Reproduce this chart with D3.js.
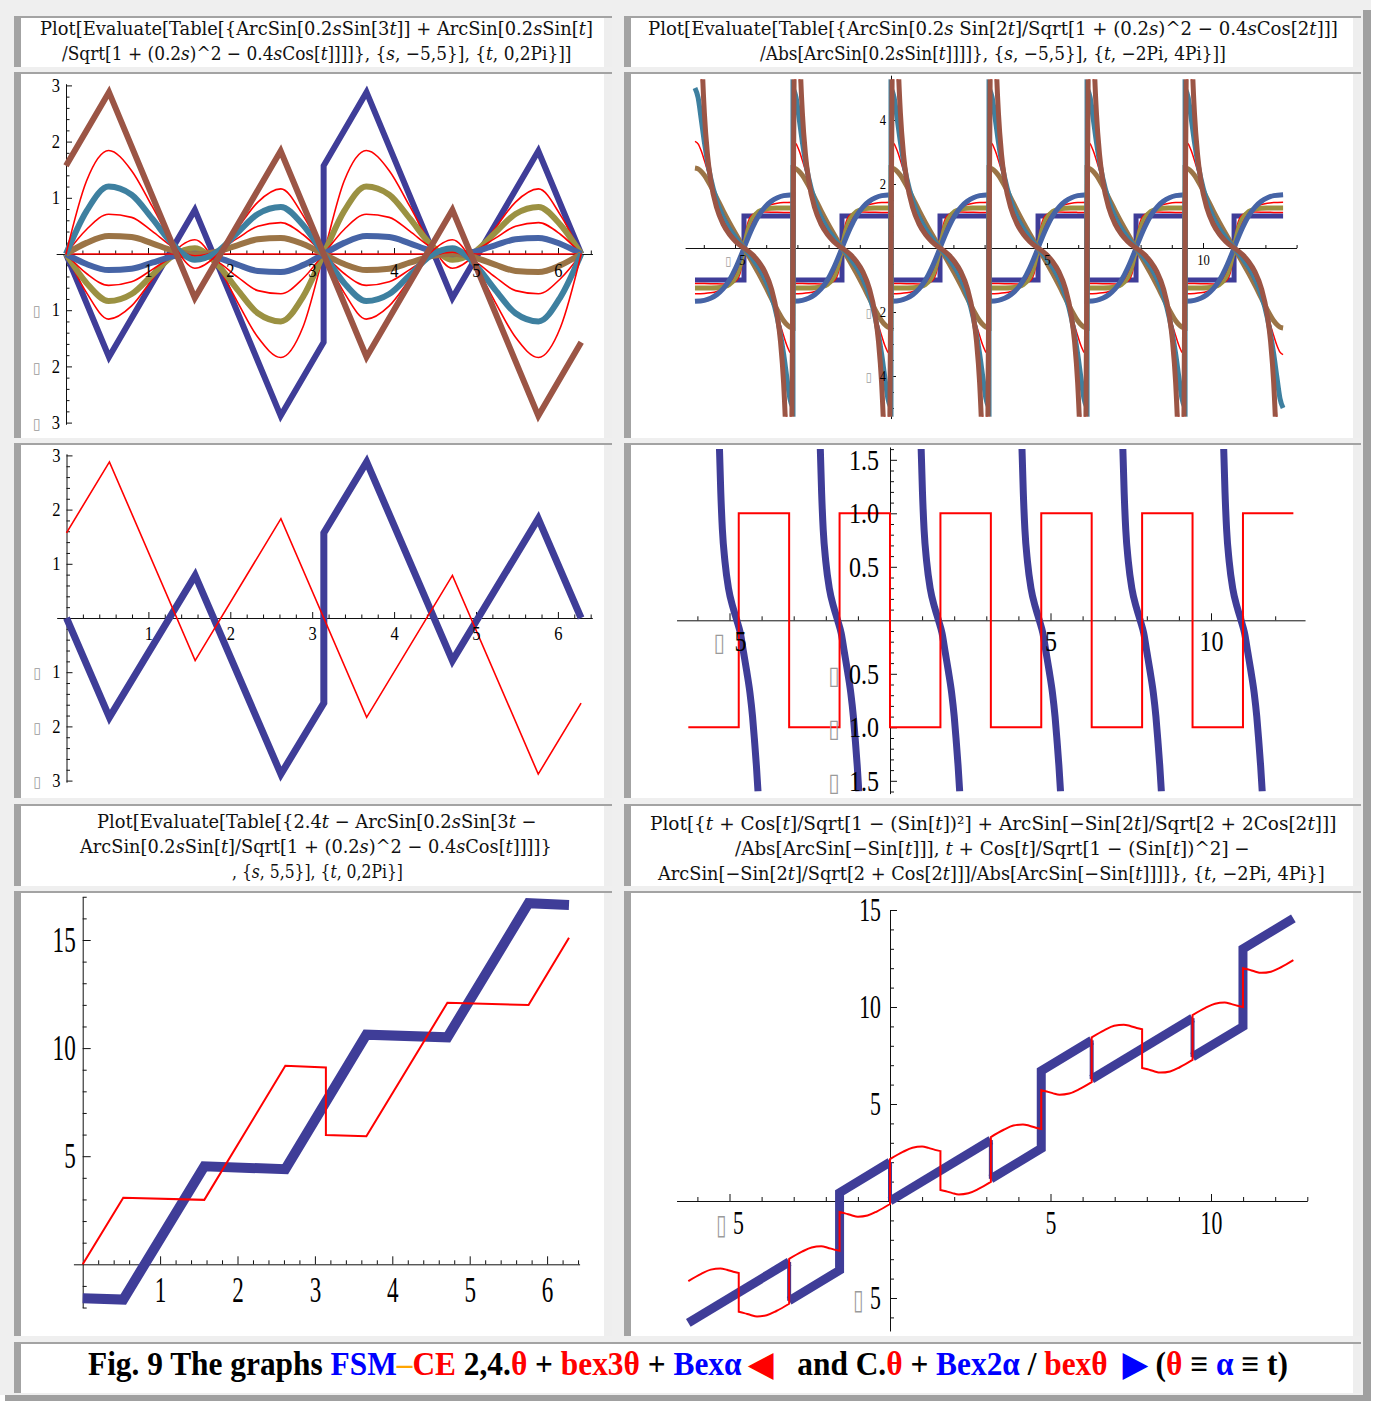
<!DOCTYPE html>
<html>
<head>
<meta charset="utf-8">
<script src="https://cdn.jsdelivr.net/npm/d3@7"></script>
<style>
  body { margin: 0; background: #fff; }
  svg text { white-space: pre; }
</style>
</head>
<body>
<svg id="fig" width="1378" height="1401"></svg>
<script>
// ---------- titles / caption text ----------
const title1 = ["Plot[Evaluate[Table[{ArcSin[0.2*s*Sin[3*t*]] + ArcSin[0.2*s*Sin[*t*]",
                "/Sqrt[1 + (0.2*s*)^2 \u2212 0.4*s*Cos[*t*]]]]}, {*s*, \u22125,5}], {*t*, 0,2Pi}]]"];
const title2 = ["Plot[Evaluate[Table[{ArcSin[0.2*s* Sin[2*t*]/Sqrt[1 + (0.2*s*)^2 \u2212 0.4*s*Cos[2*t*]]]",
                "/Abs[ArcSin[0.2*s*Sin[*t*]]]]}, {*s*, \u22125,5}], {*t*, \u22122Pi, 4Pi}]]"];
const title5 = ["Plot[Evaluate[Table[{2.4*t* \u2212 ArcSin[0.2*s*Sin[3*t* \u2212",
                "ArcSin[0.2*s*Sin[*t*]/Sqrt[1 + (0.2*s*)^2 \u2212 0.4*s*Cos[*t*]]]]}",
                ", {*s*, 5,5}], {*t*, 0,2Pi}]"];
const title6 = ["Plot[{*t* + Cos[*t*]/Sqrt[1 \u2212 (Sin[*t*])\u00B2] + ArcSin[\u2212Sin[2*t*]/Sqrt[2 + 2Cos[2*t*]]]",
                "/Abs[ArcSin[\u2212Sin[*t*]]], *t* + Cos[*t*]/Sqrt[1 \u2212 (Sin[*t*])^2] \u2212",
                "ArcSin[\u2212Sin[2*t*]/Sqrt[2 + Cos[2*t*]]]/Abs[ArcSin[\u2212Sin[*t*]]]]}, {*t*, \u22122Pi, 4Pi}]"];
const captionParts = [
  ["Fig. 9 The graphs ", "#000"], ["FSM", "#0000ff"], ["\u2013", "#ffa500"], ["CE", "#ff0000"],
  [" 2,4.", "#000"], ["\u03B8", "#ff0000"], [" + ", "#000"], ["bex3\u03B8", "#ff0000"], [" + ", "#000"],
  ["Bex\u03B1", "#0000ff"], [" \u25C0", "#ff0000"], ["   and C.", "#000"], ["\u03B8", "#ff0000"],
  [" + ", "#000"], ["Bex2\u03B1", "#0000ff"], [" / ", "#000"], ["bex\u03B8", "#ff0000"], ["  \u25B6", "#0000ff"],
  [" (", "#000"], ["\u03B8", "#ff0000"], [" \u2261 ", "#000"], ["\u03B1", "#0000ff"], [" \u2261 t)", "#000"]
];

// ---------- plot 1 & 3 data (t in radians) ----------
const p1T = [0, 0.25, 0.52, 0.8, 1.05, 1.3, 1.571, 1.84, 2.09, 2.34, 2.62, 2.89, 3.142,
             3.392, 3.662, 3.942, 4.192, 4.442, 4.712, 4.982, 5.232, 5.482, 5.762, 6.032, 6.283];
const p1SNeg4 = [0, -0.688, -1.158, -0.924, -0.454, 0.017, 0.253, -0.189, -0.850, -1.483, -1.841, -1.298, 0,
                 1.298, 1.841, 1.483, 0.850, 0.193, -0.253, -0.020, 0.454, 0.924, 1.158, 0.688, 0];
const p1SNeg3 = [0, -0.515, -0.837, -0.712, -0.376, -0.037, 0.103, -0.175, -0.633, -1.054, -1.200, -0.762, 0,
                 0.762, 1.200, 1.054, 0.633, 0.178, -0.103, 0.035, 0.376, 0.712, 0.837, 0.515, 0];
const p1SNeg2 = [0, -0.347, -0.558, -0.494, -0.278, -0.056, 0.031, -0.127, -0.406, -0.652, -0.707, -0.436, 0,
                 0.436, 0.707, 0.652, 0.406, 0.129, -0.031, 0.055, 0.278, 0.494, 0.558, 0.347, 0];
const p1SNeg1 = [0, -0.178, -0.286, -0.261, -0.155, -0.043, 0.004, -0.062, -0.189, -0.301, -0.321, -0.198, 0,
                 0.198, 0.321, 0.301, 0.189, 0.063, -0.004, 0.042, 0.155, 0.261, 0.286, 0.178, 0];
const p1S0 = [[0, 0], [6.283, 0]];
const p1S1 = [0, 0.198, 0.321, 0.301, 0.189, 0.063, -0.004, 0.042, 0.155, 0.261, 0.286, 0.178, 0,
              -0.178, -0.286, -0.261, -0.155, -0.043, 0.004, -0.062, -0.189, -0.301, -0.321, -0.198, 0];
const p1S2 = [0, 0.436, 0.707, 0.652, 0.406, 0.129, -0.031, 0.055, 0.278, 0.494, 0.558, 0.347, 0,
              -0.347, -0.558, -0.494, -0.278, -0.056, 0.031, -0.127, -0.406, -0.652, -0.707, -0.436, 0];
const p1S3 = [0, 0.762, 1.200, 1.054, 0.633, 0.178, -0.103, 0.035, 0.376, 0.712, 0.837, 0.515, 0,
              -0.515, -0.837, -0.712, -0.376, -0.037, 0.103, -0.175, -0.633, -1.054, -1.200, -0.762, 0];
const p1S4 = [0, 1.298, 1.841, 1.483, 0.850, 0.193, -0.253, -0.020, 0.454, 0.924, 1.158, 0.688, 0,
              -0.688, -1.158, -0.924, -0.454, 0.017, 0.253, -0.189, -0.850, -1.483, -1.841, -1.298, 0];
const sawPos5 = [[0, 1.571], [0.524, 2.88], [1.571, -0.785], [2.618, 1.833], [3.665, -1.833],
                 [4.712, 0.785], [5.76, -2.88], [6.283, -1.571]];
const sawNeg5 = [[0, 0], [0.524, -1.833], [1.571, 0.785], [2.618, -2.88], [3.142, -1.571],
                 [3.142, 1.571], [3.665, 2.88], [4.712, -0.785], [5.76, 1.833], [6.283, 0]];
const p1XTicks = [1, 2, 3, 4, 5, 6];
const p1YTicks = [-3, -2, -1, 1, 2, 3];

// ---------- plot 2 data (one period, repeated at each period start) ----------
const p2Periods = [-6.283, -3.142, 0, 3.142, 6.283, 9.425];
const p2UStep = [0, 1.571, 1.571, 3.142];
const p2UInc = [0, 0.3, 0.5, 0.7, 0.9, 1.1, 1.3, 1.4, 1.45, 1.5, 1.55, 1.571,
                1.592, 1.642, 1.692, 1.742, 1.842, 2.042, 2.242, 2.442, 2.642, 2.842, 3.142];
const p2UDec = [0, 0.1, 0.2, 0.3, 0.5, 0.7, 0.9, 1.1, 1.3, 1.5, 1.571,
                1.642, 1.842, 2.042, 2.242, 2.442, 2.642, 2.842, 2.942, 3.042, 3.142];
const p2USteep = [0.1, 0.15, 0.2, 0.25, 0.3, 0.4, 0.5, 0.7, 0.9, 1.1, 1.3, 1.5, 1.571,
                  1.642, 1.842, 2.042, 2.242, 2.442, 2.642, 2.742, 2.842, 2.892, 2.942, 2.992, 3.042];
const p2SNeg5 = [-1, -1, 1, 1];
const p2SNeg4 = [-1.111, -1.113, -1.116, -1.121, -1.123, -1.116, -1.044, -0.912, -0.773, -0.537, -0.177, 0,
                 0.177, 0.537, 0.773, 0.912, 1.044, 1.116, 1.123, 1.121, 1.116, 1.113, 1.111];
const p2SNeg3 = [-1.25, -1.25, -1.248, -1.241, -1.215, -1.14, -0.92, -0.684, -0.519, -0.32, -0.097, 0,
                 0.097, 0.32, 0.519, 0.684, 0.92, 1.14, 1.215, 1.241, 1.248, 1.25, 1.25];
const p2SNeg2 = [-1.429, -1.419, -1.399, -1.357, -1.269, -1.097, -0.768, -0.523, -0.38, -0.227, -0.067, 0,
                 0.067, 0.227, 0.38, 0.523, 0.768, 1.097, 1.269, 1.357, 1.399, 1.419, 1.429];
const p2SNeg1 = [-1.667, -1.635, -1.571, -1.457, -1.28, -1.012, -0.638, -0.415, -0.297, -0.175, -0.052, 0,
                 0.052, 0.175, 0.297, 0.415, 0.638, 1.012, 1.28, 1.457, 1.571, 1.635, 1.667];
const p2S1 = [2.5, 2.473, 2.394, 2.274, 1.943, 1.558, 1.171, 0.802, 0.453, 0.117, 0,
              -0.117, -0.453, -0.802, -1.171, -1.558, -1.943, -2.274, -2.394, -2.473, -2.5];
const p2S2 = [3.333, 3.255, 3.04, 2.744, 2.102, 1.535, 1.076, 0.702, 0.385, 0.098, 0,
              -0.098, -0.385, -0.702, -1.076, -1.535, -2.102, -2.744, -3.04, -3.255, -3.333];
const p2S3 = [5.0, 4.7, 4.03, 3.32, 2.2, 1.47, 0.97, 0.61, 0.33, 0.08, 0,
              -0.08, -0.33, -0.61, -0.97, -1.47, -2.2, -3.32, -4.03, -4.7, -5.0];
const p2S4 = [7.94, 6.57, 5.44, 4.57, 3.88, 2.88, 2.21, 1.366, 0.86, 0.522, 0.273, 0.068, 0,
              -0.068, -0.273, -0.522, -0.86, -1.366, -2.21, -2.88, -3.88, -4.57, -5.44, -6.57, -7.94];
const p2S5 = [14.7, 9.47, 6.85, 5.28, 4.24, 2.93, 2.14, 1.244, 0.745, 0.428, 0.208, 0.047, 0,
              -0.047, -0.208, -0.428, -0.745, -1.244, -2.14, -2.93, -4.24, -5.28, -6.85, -9.47, -14.7];
const p2XTicks = [-5, 5, 10];
const p2YTicks = [-4, -2, 2, 4];

// ---------- plot 4 data ----------
const p4Centers = [-4.712, -1.571, 1.571, 4.712, 7.854, 10.996];
const p4Offset = [-0.6, -0.56, -0.51, -0.43, -0.32, -0.18, -0.06, 0.05, 0.15, 0.25, 0.35, 0.43, 0.49, 0.55, 0.6];
const p4Value = [1.6, 1.2, 0.85, 0.55, 0.3, 0.12, 0, -0.12, -0.3, -0.48, -0.68, -0.9, -1.12, -1.36, -1.6];
const p4Square = [[-6.283, -1], [-4.712, -1], [-4.712, 1], [-3.142, 1], [-3.142, -1], [-1.571, -1],
                  [-1.571, 1], [0, 1], [0, -1], [1.571, -1], [1.571, 1], [3.142, 1], [3.142, -1],
                  [4.712, -1], [4.712, 1], [6.283, 1], [6.283, -1], [7.854, -1], [7.854, 1], [9.425, 1],
                  [9.425, -1], [10.996, -1], [10.996, 1], [12.566, 1]];
const p4XTicks = [-5, 5, 10];
const p4YTicks = [-1.5, -1, -0.5, 0.5, 1, 1.5];

// ---------- plot 5 data ----------
const p5Blue = [[0, -1.57], [0.524, -1.63], [1.571, 4.53], [2.618, 4.4], [3.665, 10.62],
                [4.712, 10.5], [5.76, 16.7], [6.283, 16.62]];
const p5Red = [[0, 0], [0.524, 3.08], [1.571, 2.98], [2.618, 9.18], [3.142, 9.1], [3.142, 5.98],
               [3.665, 5.92], [4.712, 12.1], [5.76, 11.99], [6.283, 15.1]];
const p5XTicks = [1, 2, 3, 4, 5, 6];
const p5YTicks = [5, 10, 15];

// ---------- plot 6 data ----------
const p6BluePieces = [
  [[-6.283, -6.283], [-3.142, -3.142]],
  [[-3.142, -5.142], [-1.571, -3.571], [-1.571, 0.429], [0, 2]],
  [[0, 0], [3.142, 3.142]],
  [[3.142, 1.142], [4.712, 2.712], [4.712, 6.712], [6.283, 8.283]],
  [[6.283, 6.283], [9.425, 9.425]],
  [[9.425, 7.425], [10.996, 8.996], [10.996, 12.996], [12.566, 14.566]]
];
const p6Red = [
  [-6.283, -4.128], [-5.883, -3.753], [-5.583, -3.537], [-5.283, -3.476], [-5.083, -3.546], [-4.883, -3.646], [-4.712, -3.712],
  [-4.712, -5.712], [-4.541, -5.778], [-4.341, -5.878], [-4.141, -5.948], [-3.841, -5.887], [-3.541, -5.671], [-3.142, -5.296],
  [-3.142, -2.987], [-2.742, -2.612], [-2.442, -2.396], [-2.142, -2.335], [-1.942, -2.405], [-1.742, -2.505], [-1.571, -2.571],
  [-1.571, -0.571], [-1.4, -0.637], [-1.2, -0.737], [-1.0, -0.807], [-0.7, -0.746], [-0.4, -0.53], [0, -0.155],
  [0, 2.155], [0.4, 2.53], [0.7, 2.746], [1.0, 2.807], [1.2, 2.737], [1.4, 2.637], [1.571, 2.571],
  [1.571, 0.571], [1.742, 0.505], [1.942, 0.405], [2.142, 0.335], [2.442, 0.396], [2.742, 0.612], [3.142, 0.987],
  [3.142, 3.297], [3.542, 3.672], [3.842, 3.888], [4.142, 3.949], [4.342, 3.879], [4.542, 3.779], [4.712, 3.713],
  [4.712, 5.713], [4.883, 5.647], [5.083, 5.547], [5.283, 5.477], [5.583, 5.538], [5.883, 5.754], [6.283, 6.129],
  [6.283, 8.438], [6.683, 8.813], [6.983, 9.029], [7.283, 9.09], [7.483, 9.02], [7.683, 8.92], [7.854, 8.854],
  [7.854, 6.854], [8.025, 6.788], [8.225, 6.688], [8.425, 6.618], [8.725, 6.679], [9.025, 6.895], [9.425, 7.27],
  [9.425, 9.58], [9.825, 9.955], [10.125, 10.171], [10.425, 10.232], [10.625, 10.162], [10.825, 10.062], [10.996, 9.996],
  [10.996, 11.996], [11.167, 11.93], [11.367, 11.83], [11.567, 11.76], [11.867, 11.821], [12.167, 12.037], [12.566, 12.412]
];
const p6XTicks = [-5, 5, 10];
const p6YTicks = [-5, 5, 10, 15];

// ---------- styling ----------
const SERIF = "'Liberation Serif', 'Times New Roman', serif";
const TITLE_FONT = "'DejaVu Serif', serif";
const C = {
  indigo: "#3f3d98", red: "#ff0000", olive: "#9b9142", blue: "#4664a6",
  tan: "#9b7446", teal: "#3e80a0", brown: "#9b5545", axis: "#111"
};
const svg = d3.select("#fig");
const smooth = d3.curveMonotoneX, straight = d3.curveLinear;
const intFmt = d3.format("d");

// ---------- frame ----------
svg.append("rect").attr("width", 1378).attr("height", 1401).attr("fill", "#fff");
svg.append("rect").attr("x", 0).attr("y", 0).attr("width", 1371).attr("height", 1395).attr("fill", "#efefef");
svg.append("rect").attr("x", 1363).attr("y", 10).attr("width", 8).attr("height", 1391).attr("fill", "#a0a0a0");
svg.append("rect").attr("x", 5).attr("y", 1395).attr("width", 1366).attr("height", 6).attr("fill", "#a0a0a0");

const LX = 14, LW = 598, RX = 624, RW = 737;
const cells = [
  [LX, 16, LW, 51], [RX, 16, RW, 51],
  [LX, 72, LW, 366], [RX, 72, RW, 366],
  [LX, 443, LW, 355], [RX, 443, RW, 355],
  [LX, 804, LW, 82], [RX, 804, RW, 82],
  [LX, 891, LW, 445], [RX, 891, RW, 445],
  [LX, 1342, RX + RW - LX, 51]
];
cells.forEach(([x, y, w, h]) => {
  svg.append("rect").attr("x", x).attr("y", y).attr("width", w).attr("height", h).attr("fill", "#fff");
  svg.append("rect").attr("x", x + w - 8).attr("y", y).attr("width", 8).attr("height", h).attr("fill", "#eeeeee");
  svg.append("rect").attr("x", x).attr("y", y).attr("width", w).attr("height", 2).attr("fill", "#a3a3a3");
  svg.append("rect").attr("x", x).attr("y", y).attr("width", 7).attr("height", h).attr("fill", "#a3a3a3");
});

// ---------- text helpers ----------
function fitText(text, x0, x1) {
  const w = text.node().getBBox().width;
  const base = +text.attr("data-y");
  text.attr("transform", `translate(${x0},${base}) scale(${(x1 - x0) / w},1)`);
}
function titleLine(str, x0, x1, base) {
  const t = svg.append("text").attr("font-family", TITLE_FONT).attr("font-size", 19)
    .attr("fill", "#111").attr("data-y", base);
  str.split("*").forEach((seg, i) => {
    if (seg.length) t.append("tspan").attr("font-style", i % 2 ? "italic" : "normal").text(seg);
  });
  fitText(t, x0, x1);
}
titleLine(title1[0], 40, 593, 35); titleLine(title1[1], 62, 572, 60);
titleLine(title2[0], 648, 1338, 35); titleLine(title2[1], 760, 1226, 60);
titleLine(title5[0], 97, 537, 828); titleLine(title5[1], 80, 553, 853); titleLine(title5[2], 232, 403, 878);
titleLine(title6[0], 650, 1337, 830); titleLine(title6[1], 735, 1250, 855); titleLine(title6[2], 658, 1326, 880);

const cap = svg.append("text").attr("font-family", SERIF).attr("font-weight", "bold")
  .attr("font-size", 33).attr("data-y", 1375);
captionParts.forEach(([s, col]) => cap.append("tspan").attr("fill", col).text(s));
fitText(cap, 88, 1287);

// ---------- plot helpers ----------
function makeScales(c) {
  const x = d3.scaleLinear().domain(c.xExt).range(c.xExt.map(v => c.x0 + v * c.xu));
  const y = d3.scaleLinear().domain(c.yExt).range(c.yExt.map(v => c.y0 - v * c.yu));
  return { x, y };
}
function piecesPath(pieces, x, y, curve) {
  const line = d3.line().x(d => x(d[0])).y(d => y(d[1])).curve(curve);
  return pieces.map((p, i) => { const s = line(p); return i ? "L" + s.slice(1) : s; }).join("");
}
function splitJumps(pts) {
  const out = []; let cur = [pts[0]];
  for (let i = 1; i < pts.length; i++) {
    if (pts[i][0] === pts[i - 1][0]) { out.push(cur); cur = [pts[i]]; } else cur.push(pts[i]);
  }
  out.push(cur);
  return out;
}
const zip = (ts, vs) => ts.map((t, i) => [t, vs[i]]);
function drawPath(g, d, color, w) {
  g.append("path").attr("d", d).attr("fill", "none").attr("stroke", color)
    .attr("stroke-width", w).attr("stroke-linejoin", "miter").attr("stroke-miterlimit", 6);
}
const grid = (a, b, step) => d3.range(Math.round(a / step), Math.round(b / step) + 1)
  .map(i => +(i * step).toFixed(4)).filter(v => v !== 0);

function drawAxes(g, x, y, o) {
  const mk = (axis, vals, len, pad, fmt) => axis.tickValues(vals).tickSize(-len).tickSizeOuter(0)
    .tickPadding(pad).tickFormat(fmt);
  const minorX = grid(o.xMinor[0], o.xMinor[1], o.xMinor[2]).filter(v => !o.xMajor.includes(v));
  const minorY = grid(o.yMinor[0], o.yMinor[1], o.yMinor[2]).filter(v => !o.yMajor.includes(v));
  const fx = o.fmtX || intFmt, fy = o.fmtY || intFmt;
  const gx0 = g.append("g").attr("transform", `translate(0,${y(0)})`)
    .call(mk(d3.axisBottom(x), minorX, o.minLen, 0, ""));
  const gx = g.append("g").attr("transform", `translate(0,${y(0)})`)
    .call(mk(d3.axisBottom(x), o.xMajor, o.majLen, o.padX, d => fx(Math.abs(d))));
  const gy0 = g.append("g").attr("transform", `translate(${x(0)},0)`)
    .call(mk(d3.axisLeft(y), minorY, o.minLen, 0, ""));
  const gy = g.append("g").attr("transform", `translate(${x(0)},0)`)
    .call(mk(d3.axisLeft(y), o.yMajor, o.majLen, o.padY, d => fy(Math.abs(d))));
  gx0.select(".domain").remove(); gy0.select(".domain").remove();
  [gx0, gx, gy0, gy].forEach(a => a.attr("font-family", null).attr("font-size", null));
  g.selectAll(".domain, .tick line").attr("stroke", C.axis).attr("stroke-width", 1);
  [[gx, "middle"], [gy, "end"]].forEach(([a, anchor]) => a.selectAll(".tick text").each(function (d) {
    const t = d3.select(this);
    const tx = +t.attr("x") || 0;
    t.attr("x", 0).attr("transform", `translate(${tx},0) scale(${o.sx},1)`)
      .attr("text-anchor", anchor)
      .attr("font-family", SERIF).attr("font-size", o.size).attr("fill", "#000");
    if (d < 0) {
      const s = t.text();
      t.text(null);
      t.append("tspan").attr("font-family", "DejaVu Sans").attr("font-size", o.size * 0.85)
        .attr("fill", "#9a9a9a").text("\u25AF");
      t.append("tspan").attr("dx", o.gap).text(s);
    }
  }));
  // tick labels sit above the curves: move them to a top layer once the curves are drawn
  return function raiseLabels() {
    const top = g.append("g");
    g.selectAll(".tick text").each(function () {
      const m = this.getCTM();
      top.node().appendChild(this);
      d3.select(this).attr("transform", `matrix(${m.a},${m.b},${m.c},${m.d},${m.e},${m.f})`);
    });
  };
}

// ---------- plot 1 ----------
{
  const { x, y } = makeScales({ x0: 66, xu: 82, y0: 254, yu: 56.2, xExt: [-0.12, 6.42], yExt: [-3.03, 3.03] });
  const g = svg.append("g");
  const raise = drawAxes(g, x, y, { xMajor: p1XTicks, yMajor: p1YTicks, xMinor: [0.2, 6.4, 0.2], yMinor: [-3, 3, 0.2],
    majLen: 6, minLen: 3.5, padX: 10, padY: 6, size: 18, sx: 0.92, gap: 12 });
  const series = [
    [splitJumps(sawNeg5), C.indigo, 6, straight],
    [[zip(p1T, p1SNeg4)], C.red, 1.6, smooth],
    [[zip(p1T, p1SNeg3)], C.olive, 6, smooth],
    [[zip(p1T, p1SNeg2)], C.red, 1.6, smooth],
    [[zip(p1T, p1SNeg1)], C.blue, 6, smooth],
    [[p1S0], C.red, 1.6, straight],
    [[zip(p1T, p1S1)], C.tan, 6, smooth],
    [[zip(p1T, p1S2)], C.red, 1.6, smooth],
    [[zip(p1T, p1S3)], C.teal, 6, smooth],
    [[zip(p1T, p1S4)], C.red, 1.6, smooth],
    [[sawPos5], C.brown, 6, straight]
  ];
  series.forEach(([pieces, col, w, curve]) => drawPath(g, piecesPath(pieces, x, y, curve), col, w));
  raise();
}

// ---------- plot 2 ----------
{
  const { x, y } = makeScales({ x0: 891, xu: 31.2, y0: 248, yu: 32, xExt: [-6.6, 13.0], yExt: [-5.33, 5.4] });
  const g = svg.append("g");
  const raise = drawAxes(g, x, y, { xMajor: p2XTicks, yMajor: p2YTicks, xMinor: [-6, 13, 1], yMinor: [-5, 5, 0.5],
    majLen: 5, minLen: 3, padX: 7, padY: 5, size: 14, sx: 0.9, gap: 9 });
  svg.append("clipPath").attr("id", "clip2").append("rect")
    .attr("x", 680).attr("y", y(5.27)).attr("width", 620).attr("height", y(-5.27) - y(5.27));
  const gc = g.append("g").attr("clip-path", "url(#clip2)");
  const series = [
    [p2UStep, p2SNeg5, C.indigo, 5, straight],
    [p2UInc, p2SNeg4, C.red, 1.5, smooth],
    [p2UInc, p2SNeg3, C.olive, 5, smooth],
    [p2UInc, p2SNeg2, C.red, 1.5, smooth],
    [p2UInc, p2SNeg1, C.blue, 5, smooth],
    [p2UDec, p2S1, C.tan, 5, smooth],
    [p2UDec, p2S2, C.red, 1.5, smooth],
    [p2UDec, p2S3, C.teal, 5, smooth],
    [p2USteep, p2S4, C.red, 1.5, smooth],
    [p2USteep, p2S5, C.brown, 5, smooth]
  ];
  series.forEach(([us, vs, col, w, curve]) => {
    const pieces = p2Periods.map(P => us.map((u, i) => [P + u, vs[i]]));
    drawPath(gc, piecesPath(pieces, x, y, curve), col, w);
  });
  raise();
}

// ---------- plot 3 ----------
{
  const { x, y } = makeScales({ x0: 66.5, xu: 81.9, y0: 618, yu: 54.2, xExt: [-0.12, 6.42], yExt: [-3.03, 3.03] });
  const g = svg.append("g");
  const raise = drawAxes(g, x, y, { xMajor: p1XTicks, yMajor: p1YTicks, xMinor: [0.2, 6.4, 0.2], yMinor: [-3, 3, 0.2],
    majLen: 6, minLen: 3.5, padX: 9, padY: 6, size: 18, sx: 0.92, gap: 12 });
  drawPath(g, piecesPath(splitJumps(sawNeg5), x, y, straight), C.indigo, 7);
  drawPath(g, piecesPath([sawPos5], x, y, straight), C.red, 1.6);
  raise();
}

// ---------- plot 4 ----------
{
  const { x, y } = makeScales({ x0: 890, xu: 32.1, y0: 620.3, yu: 107, xExt: [-6.65, 12.93], yExt: [-1.62, 1.62] });
  const g = svg.append("g");
  const raise = drawAxes(g, x, y, { xMajor: p4XTicks, yMajor: p4YTicks, xMinor: [-6, 12, 1], yMinor: [-1.6, 1.6, 0.1],
    majLen: 7, minLen: 4, padX: 9, padY: 11, size: 30, sx: 0.8, gap: 12, fmtY: d3.format(".1f") });
  svg.append("clipPath").attr("id", "clip4").append("rect")
    .attr("x", 670).attr("y", y(1.6)).attr("width", 640).attr("height", y(-1.6) - y(1.6));
  const gc = g.append("g").attr("clip-path", "url(#clip4)");
  p4Centers.forEach(c => {
    drawPath(gc, piecesPath([p4Offset.map((o, i) => [c + o, p4Value[i]])], x, y, smooth), C.indigo, 7);
  });
  drawPath(g, piecesPath([p4Square], x, y, straight), C.red, 2);
  raise();
}

// ---------- plot 5 ----------
{
  const { x, y } = makeScales({ x0: 82.7, xu: 77.4, y0: 1264.3, yu: 21.62, xExt: [-0.12, 6.42], yExt: [-2.0, 17.0] });
  const g = svg.append("g");
  const raise = drawAxes(g, x, y, { xMajor: p5XTicks, yMajor: p5YTicks, xMinor: [0.2, 6.4, 0.2], yMinor: [-2, 17, 1],
    majLen: 8, minLen: 4, padX: 13, padY: 7, size: 35, sx: 0.66, gap: 6 });
  drawPath(g, piecesPath([p5Blue], x, y, straight), C.indigo, 10);
  drawPath(g, piecesPath([p5Red], x, y, straight), C.red, 2);
  raise();
}

// ---------- plot 6 ----------
{
  const { x, y } = makeScales({ x0: 890, xu: 32.1, y0: 1201, yu: 19.4, xExt: [-6.65, 13.0], yExt: [-6.7, 15.0] });
  const g = svg.append("g");
  const raise = drawAxes(g, x, y, { xMajor: p6XTicks, yMajor: p6YTicks, xMinor: [-6, 13, 1], yMinor: [-6, 15, 1],
    majLen: 7, minLen: 4, padX: 10, padY: 9, size: 33, sx: 0.66, gap: 10 });
  p6BluePieces.forEach((p, i) => {
    drawPath(g, piecesPath([p], x, y, straight), C.indigo, 9);
    if (i < p6BluePieces.length - 1) {
      drawPath(g, piecesPath([[p[p.length - 1], p6BluePieces[i + 1][0]]], x, y, straight), C.indigo, 4);
    }
  });
  drawPath(g, piecesPath(splitJumps(p6Red), x, y, smooth), C.red, 2);
  raise();
}
</script>
</body>
</html>
